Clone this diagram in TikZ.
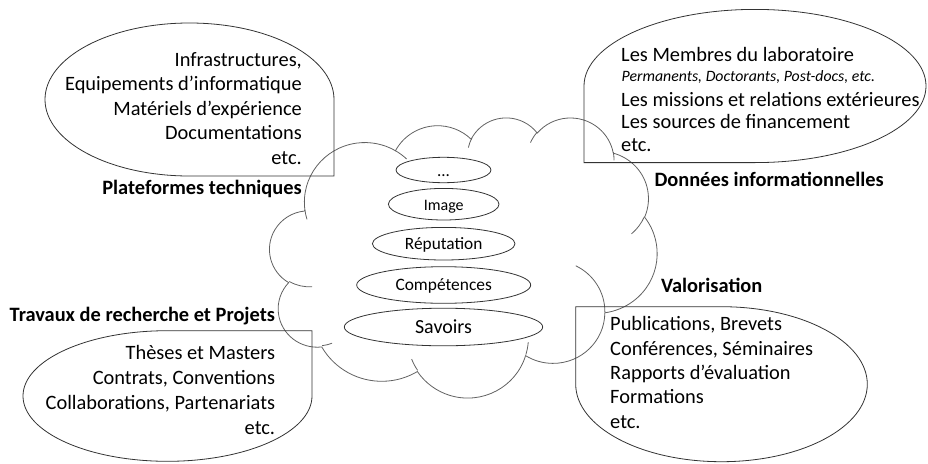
\documentclass[tikz,border=0pt]{standalone}
\usepackage{fontspec}
\setmainfont{Carlito}
\usetikzlibrary{shapes.geometric}
\newcommand\fsz[1]{\fontsize{#1}{#1}\selectfont}
% cloud helpers (PowerPoint-like cloud geometry, angles are visual angles)
\gdef\cldpath{}
\gdef\cldinner{}
\newcommand\cldarc[4]{%
  \pgfmathsetmacro\cldS{atan2((#1)*sin(#3),(#2)*cos(#3))}%
  \pgfmathsetmacro\cldE{atan2((#1)*sin((#3)+(#4)),(#2)*cos((#3)+(#4)))}%
  \pgfmathsetmacro\cldE{\cldE+360*round((\cldS+(#4)-\cldE)/360)}%
  \xdef\cldpath{\cldpath arc[start angle=\cldS, end angle=\cldE, x radius=#1, y radius=#2]}%
}
\newcommand\cldin[6]{%
  \pgfmathsetmacro\cldS{atan2((#3)*sin(#5),(#4)*cos(#5))}%
  \pgfmathsetmacro\cldE{atan2((#3)*sin((#5)+(#6)),(#4)*cos((#5)+(#6)))}%
  \pgfmathsetmacro\cldE{\cldE+360*round((\cldS+(#6)-\cldE)/360)}%
  \xdef\cldinner{\cldinner (#1,#2) arc[start angle=\cldS, end angle=\cldE, x radius=#3, y radius=#4]}%
}
\begin{document}
\begin{tikzpicture}[x=1pt,y=-1pt,
  cl/.style={draw=black!62, line width=0.8pt},
  co/.style={draw=black!80, line width=0.8pt},
  txt/.style={inner sep=0pt, font=\fsz{20.4}},
  lab/.style={inner sep=0pt, font=\fsz{20.4}\bfseries},
  itx/.style={inner sep=0pt, font=\fsz{15.8}\itshape},
  ell/.style={draw=black!80, line width=0.8pt, ellipse, inner sep=0pt}]
\useasboundingbox (0,0) rectangle (928,463);

% ---- cloud ----
\cldarc{67.53}{91.90}{-190.4875}{123.7805}
\cldarc{53.33}{72.67}{-144.1024}{89.9452}
\cldarc{43.65}{59.45}{-145.8079}{99.7230}
\cldarc{48.57}{65.95}{-130.9861}{117.2417}
\cldarc{53.33}{72.73}{-78.7089}{109.0269}
\cldarc{67.75}{92.20}{-46.2699}{130.4422}
\cldarc{57.85}{78.67}{0.6250}{114.0333}
\cldarc{67.52}{92.15}{22.4516}{115.1726}
\cldarc{77.20}{105.43}{66.2426}{75.7110}
\cldarc{43.60}{59.18}{-274.9421}{146.7356}
\cldarc{43.45}{59.45}{-246.8285}{152.5189}
\cldin{46.93}{261.77}{43.45}{59.45}{86.742}{26.4295}
\cldin{69.28}{348.99}{43.60}{59.18}{73.6105}{11.4475}
\cldin{164.78}{390.90}{67.52}{92.15}{137.6242}{14.0811}
\cldin{288.27}{347.51}{67.52}{92.15}{6.4533}{15.9984}
\cldin{341.29}{229.54}{57.85}{78.67}{-70.2924}{70.9174}
\cldin{417.98}{153.54}{53.33}{72.73}{30.3180}{27.7515}
\cldin{383.24}{54.26}{48.57}{65.95}{-13.7443}{14.8589}
\cldin{290.78}{39.52}{48.57}{65.95}{-149.1815}{18.1954}
\cldin{221.41}{47.20}{43.65}{59.45}{-163.4943}{19.0001}
\cldin{140.04}{52.01}{67.53}{91.90}{-66.7069}{11.7}
\cldin{41.27}{157.89}{67.53}{91.90}{157.65}{11.86}
\begin{scope}[shift={(270,117)}, x=0.895833pt, y=-0.648148pt]
  \draw[cl] (39.00,143.70) \cldpath -- cycle;
  \draw[cl] \cldinner;
\end{scope}

% ---- callouts ----
\draw[co] (334,99.5) arc[start angle=0,end angle=-270,x radius=144.5,y radius=76.5] -- (334,176) -- cycle;
\draw[co] (755,162.6) arc[start angle=90,end angle=-180,x radius=171,y radius=76.6] -- (584,162.6) -- cycle;
\draw[co] (167.5,330.7) arc[start angle=-90,end angle=-360,x radius=144.5,y radius=65.3] -- (312,330.7) -- cycle;
\draw[co] (575.7,384.2) arc[start angle=180,end angle=-90,x radius=145.8,y radius=77.5] -- (575.7,306.7) -- cycle;

% ---- central ellipses ----
\node[ell, minimum width=95pt, minimum height=25.4pt] (e0) at (443.5,170) {};
\node[ell, minimum width=110.6pt, minimum height=31.6pt] (e1) at (443.7,204.2) {};
\node[ell, minimum width=142.6pt, minimum height=32.6pt] (e2) at (443.7,243.7) {};
\node[ell, minimum width=174pt, minimum height=36.6pt] (e3) at (443.7,285) {};
\node[ell, minimum width=198.4pt, minimum height=37.6pt] (e4) at (443.5,327) {};
\node[inner sep=0pt, font=\fsz{17}, anchor=base] (t0) at (443.5,176) {...};
\node[inner sep=0pt, font=\fsz{16}, anchor=base] (t1) at (443.7,210) {Image};
\node[inner sep=0pt, font=\fsz{17.3}, anchor=base] (t2) at (443.7,249.3) {Réputation};
\node[inner sep=0pt, font=\fsz{17.4}, anchor=base] (t3) at (443.7,290.7) {Compétences};
\node[inner sep=0pt, font=\fsz{20}, anchor=base] (t4) at (443.5,333.3) {Savoirs};

% ---- top-left ----
\node[txt, anchor=base east] (tl1) at (302,66.7) {Infrastructures,};
\node[txt, anchor=base east] (tl2) at (302,90.9) {Equipements d’informatique};
\node[txt, anchor=base east] (tl3) at (302,115.1) {Matériels d’expérience};
\node[txt, anchor=base east] (tl4) at (302,139.4) {Documentations};
\node[txt, anchor=base east] (tl5) at (302,164.5) {etc.};
\node[lab, anchor=base east] (tll) at (302,194.3) {Plateformes techniques};

% ---- top-right ----
\node[txt, anchor=base west] (tr1) at (621,61.7) {Les Membres du laboratoire};
\node[itx, anchor=base west] (tr2) at (621.5,81) {Permanents, Doctorants, Post-docs, etc.};
\node[txt, anchor=base west] (tr3) at (621,106) {Les missions et relations extérieures};
\node[txt, anchor=base west] (tr4) at (621,128.3) {Les sources de financement};
\node[txt, anchor=base west] (tr5) at (621,151.2) {etc.};
\node[lab, anchor=base west] (trl) at (654.3,186.2) {Données informationnelles};

% ---- bottom-left ----
\node[lab, anchor=base east] (bll) at (275.3,321.7) {Travaux de recherche et Projets};
\node[txt, anchor=base east] (bl1) at (275.3,359.3) {Thèses et Masters};
\node[txt, anchor=base east] (bl2) at (275.3,384.3) {Contrats, Conventions};
\node[txt, anchor=base east] (bl3) at (275.3,409.3) {Collaborations, Partenariats};
\node[txt, anchor=base east] (bl4) at (275.3,434.3) {etc.};

% ---- bottom-right ----
\node[lab, anchor=base west] (brl) at (661,292.3) {Valorisation};
\node[txt, anchor=base west] (br1) at (610,330.7) {Publications, Brevets};
\node[txt, anchor=base west] (br2) at (610,355) {Conférences, Séminaires};
\node[txt, anchor=base west] (br3) at (610,379) {Rapports d’évaluation};
\node[txt, anchor=base west] (br4) at (610,403.3) {Formations};
\node[txt, anchor=base west] (br5) at (610,428.3) {etc.};
\end{tikzpicture}
\end{document}
